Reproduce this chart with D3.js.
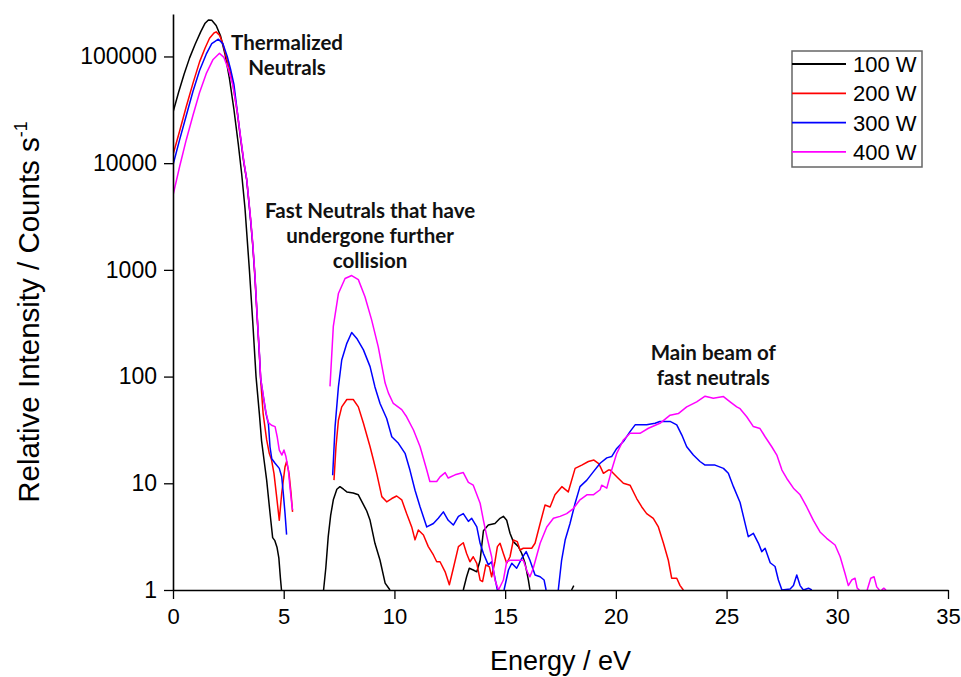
<!DOCTYPE html>
<html>
<head>
<meta charset="utf-8">
<script src="https://cdn.jsdelivr.net/npm/d3@7"></script>
<style>
  body { margin: 0; background: #fff; }
  svg text { font-family: "Liberation Sans", Arial, sans-serif; }
</style>
</head>
<body>
<div id="canvas"></div>
<script>
"use strict";

let svgWidth = 961;
let svgHeight = 677;

// plot box
let plotLeft = 173, plotRight = 948, plotTop = 14, plotBottom = 590;

// ---- data: [energy eV, counts/s], null = gap in the trace ----
let seriesNames = ["100 W", "200 W", "300 W", "400 W"];
let seriesColors = ["#000000", "#ff0000", "#0000ff", "#ff00ff"];

let w100 = [
  [0,30000],[0.25,46000],[0.5,68000],[0.75,97000],[1.0,130000],[1.25,170000],[1.45,205000],[1.6,220000],
  [1.75,218000],[1.95,195000],[2.15,155000],[2.35,105000],[2.55,62000],[2.75,32000],[2.95,15000],[3.1,8000],
  [3.25,3800],[3.45,1000],[3.6,330],[3.75,100],[3.9,45],[4.0,25],[4.12,16],[4.23,10.7],[4.38,5.3],[4.5,3.1],
  [4.6,2.9],[4.7,2.5],[4.78,2.0],[4.85,1.3],[4.9,1],
  null,
  [6.8,1],[6.9,1.6],[7.01,3.16],[7.12,5],[7.24,7.0],[7.4,8.8],[7.54,9.3],[7.7,8.8],[7.85,8.3],[8.14,8.1],
  [8.37,7.8],[8.6,6.3],[8.75,5.5],[8.9,4.5],[9.12,2.74],[9.35,1.9],[9.58,1.16],[9.8,1],
  null,
  [13.11,1],[13.26,1.33],[13.38,1.6],[13.56,1.54],[13.72,1.48],[13.87,1.9],[14.02,3.6],[14.24,4.06],[14.54,4.2],
  [14.77,4.7],[14.92,4.9],[15.07,4.5],[15.22,3.4],[15.37,2.84],[15.6,2.55],[15.75,2.2],[15.9,1.78],[16.05,1.24],[16.12,1],
  null,
  [18.0,1],[18.1,1.1]
];

let w200 = [
  [0,12000],[0.3,20000],[0.6,34000],[0.9,56000],[1.2,89000],[1.45,120000],[1.65,148000],[1.85,166000],[1.95,170000],
  [2.1,158000],[2.25,132000],[2.4,100000],[2.55,76000],[2.7,56000],[2.9,30000],[3.05,17000],[3.2,10000],[3.33,6900],
  [3.5,3000],[3.6,1700],[3.7,850],[3.8,360],[3.9,160],[3.96,93],[4.07,45],[4.23,25.5],[4.35,19],[4.45,16.6],
  [4.56,12.4],[4.68,7.5],[4.8,4.5],[4.91,8.1],[5.06,14.3],[5.13,16],[5.24,12.4],[5.33,8.1],[5.4,5.4],
  null,
  [7.27,10.7],[7.36,22],[7.47,39],[7.62,52],[7.85,61],[8.14,61],[8.37,52],[8.6,36.5],[8.9,22],[9.05,16.6],[9.2,12.4],
  [9.43,7.5],[9.65,6.7],[9.88,7.2],[10.1,7.6],[10.33,7.0],[10.55,5.2],[10.78,3.9],[10.93,2.95],[11.08,3.65],[11.31,3.28],
  [11.53,2.55],[11.76,2.13],[11.91,1.84],[12.06,1.84],[12.29,1.48],[12.48,1.12],[12.66,1.6],[12.89,2.55],[13.11,2.77],
  [13.26,2.2],[13.41,1.84],[13.56,2.05],[13.72,1.78],[13.87,1.24],[13.98,1.2],[14.13,1.72],[14.29,1.65],[14.39,1.33],
  [14.54,1.84],[14.65,2.55],[14.77,2.74],[14.92,2.2],[15.07,1.78],[15.22,2.05],[15.37,2.94],[15.55,2.84],[15.67,2.37],
  [15.82,2.46],[16.0,2.46],[16.2,2.46],[16.35,2.74],[16.58,4.2],[16.8,6.25],[17.03,6.0],[17.25,7.8],[17.56,9.3],
  [17.85,8.3],[18.16,13.8],[18.46,14.8],[18.76,16],[19.01,16.5],[19.21,15.4],[19.29,14.4],[19.44,12.4],[19.66,13.3],
  [19.74,13.3],[20.04,11.5],[20.34,10],[20.64,9.6],[20.94,7.2],[21.17,6.0],[21.39,5.2],[21.69,4.7],[21.92,3.9],
  [22.15,2.74],[22.37,1.9],[22.52,1.29],[22.75,1.29],[22.9,1.1],[23.05,1]
];

let w300 = [
  [0,9600],[0.3,16600],[0.6,28000],[0.9,47000],[1.2,74000],[1.5,105000],[1.75,132000],[2.05,145000],[2.25,132000],
  [2.45,100000],[2.6,76000],[2.75,55000],[2.9,31000],[3.05,17500],[3.2,10200],[3.33,7000],[3.5,3000],[3.6,1750],
  [3.7,880],[3.8,370],[3.9,165],[3.96,95],[4.08,65],[4.2,45],[4.31,36],[4.38,22],[4.46,17],[4.61,15.4],[4.8,13.8],
  [4.91,11.5],[4.98,8.1],[5.06,5.2],[5.13,3.3],
  null,
  [7.21,11.9],[7.32,34],[7.47,80],[7.62,143],[7.85,205],[8.07,259],[8.3,228],[8.6,178],[8.9,124],[9.12,80],[9.35,56],
  [9.65,40.5],[9.88,27.3],[10.18,23.7],[10.48,19.1],[10.7,13.3],[10.93,8.6],[11.16,6.0],[11.46,3.9],[11.76,4.2],
  [11.98,4.7],[12.21,5.4],[12.43,4.5],[12.66,4.06],[12.89,4.9],[13.11,5.2],[13.34,4.4],[13.49,4.7],[13.72,3.9],
  [13.87,2.74],[14.02,2.2],[14.24,1.72],[14.39,1.84],[14.54,1.29],[14.65,1],
  null,
  [14.95,1],[15.15,1.54],[15.3,1.78],[15.52,1.6],[15.75,1.98],[15.95,2.29],[16.12,1.9],[16.35,1.38],[16.58,1.33],
  [16.76,1.24],[16.85,1],
  null,
  [17.4,1],[17.55,1.9],[17.71,2.94],[17.93,4.2],[18.16,6.5],[18.38,9.3],[18.69,10.7],[18.98,12.8],[19.29,15.4],
  [19.59,17.3],[19.81,17.8],[20.04,21.2],[20.34,24.6],[20.64,30.5],[20.87,35.3],[21.39,35.3],[21.77,36.5],[21.99,38],
  [22.45,38],[22.75,35.3],[22.98,28.3],[23.2,22],[23.5,18.4],[23.8,16],[24.03,14.8],[24.48,14.8],[24.86,13.8],
  [25.08,12.4],[25.31,9.3],[25.61,6.6],[25.76,4.9],[25.98,3.16],[26.21,3.4],[26.44,2.74],[26.59,2.29],[26.74,2.46],
  [26.97,1.8],[27.19,1.66],[27.34,1.24],[27.5,1.0],[27.87,1.02],[28.02,1.1],[28.17,1.38],[28.32,1.1],[28.47,1.0],
  [28.7,1.04],[28.85,1]
];

let w400 = [
  [0,5000],[0.3,9300],[0.6,16600],[0.9,28000],[1.2,46000],[1.5,69000],[1.8,93000],[2.1,107000],[2.3,98000],
  [2.5,76000],[2.7,54000],[2.9,30500],[3.05,17800],[3.2,10400],[3.33,7100],[3.5,3100],[3.6,1800],[3.7,900],
  [3.8,380],[3.9,170],[3.96,96],[4.08,66],[4.2,46],[4.31,37],[4.45,35],[4.61,34],[4.71,27],[4.8,20.5],[4.92,18.4],
  [5.01,20.5],[5.1,17.8],[5.21,13.3],[5.28,9.3],[5.36,6.5],[5.4,5.6],
  null,
  [7.09,81],[7.24,295],[7.47,600],[7.77,830],[8.07,885],[8.37,810],[8.67,560],[8.97,340],[9.27,190],[9.58,87],
  [9.73,70],[9.95,56],[10.33,49],[10.55,42],[10.86,31.6],[11.16,22],[11.46,13.3],[11.6,10.4],[11.91,10.4],
  [12.06,11.5],[12.29,12.6],[12.43,11.2],[12.74,12],[13.11,12.6],[13.34,10.2],[13.56,9.6],[13.87,6.5],[14.02,4.5],
  [14.17,3.2],[14.39,2.05],[14.54,1.24],[14.7,1.0],[14.92,1.24],[15.07,1.84],[15.22,1.9],[15.82,1.9],[16.0,1.48],
  [16.12,1.33],[16.27,1.6],[16.58,2.74],[16.88,3.9],[17.18,4.7],[17.48,4.9],[17.78,5.2],[18.08,5.8],[18.38,7.0],
  [18.69,7.8],[18.98,7.8],[19.29,8.7],[19.36,9.6],[19.59,9.0],[19.81,13.3],[20.04,19.1],[20.34,25.5],[20.64,29.4],
  [21.09,29.4],[21.47,32.8],[21.99,36.5],[22.45,43.5],[22.82,45],[23.2,52],[23.65,58],[24.03,65.5],[24.4,62.6],
  [24.86,65],[25.16,58],[25.46,52],[25.61,50],[25.91,42],[26.21,34],[26.51,32.6],[26.74,27.3],[27.04,22],
  [27.27,18.4],[27.5,13.3],[27.72,11.1],[28.02,9],[28.32,7.8],[28.62,6.0],[28.92,4.5],[29.22,3.5],[29.52,3.05],
  [29.9,2.64],[30.13,2.05],[30.35,1.43],[30.5,1.1],[30.65,1.24],[30.8,1.29],[30.9,1.04],[31.0,1],
  null,
  [31.35,1],[31.51,1.29],[31.66,1.33],[31.78,1.07],[31.9,1],
  null,
  [32.0,1],[32.1,1.04],[32.2,1]
];

let allSeries = [w100, w200, w300, w400];

let xMajor = [0, 5, 10, 15, 20, 25, 30, 35];
let yMajor = [1, 10, 100, 1000, 10000, 100000];

// annotation anchor = centre of first line, in data units
let annotations = [
  { lines: ["Thermalized", "Neutrals"], x: 5.15, y: 115000 },
  { lines: ["Fast Neutrals that have", "undergone further", "collision"], x: 8.9, y: 3080 },
  { lines: ["Main beam of", "fast neutrals"], x: 24.4, y: 143 }
];

// ---- svg ----
let svg = d3.select("#canvas")
  .append("svg")
  .attr("width", svgWidth)
  .attr("height", svgHeight);

let xScale = d3.scaleLinear().domain([0, 35]).range([plotLeft, plotRight]);
let yScale = d3.scaleLog().domain([1, 250000]).range([plotBottom, plotTop]);

// minor tick values
let xMinor = d3.range(0, 36, 1).filter(function(d){ return d % 5 !== 0; });
let yMinor = [];
for (let p = 0; p <= 5; p++) {
  for (let m = 2; m <= 9; m++) {
    let v = m * Math.pow(10, p);
    if (v <= 250000) yMinor.push(v);
  }
}

svg.append("clipPath").attr("id", "plotclip")
  .append("rect")
  .attr("x", plotLeft).attr("y", plotTop - 2)
  .attr("width", plotRight - plotLeft).attr("height", plotBottom - plotTop + 3);

// traces
let line = d3.line()
  .defined(function(d){ return d !== null; })
  .x(function(d){ return xScale(d[0]); })
  .y(function(d){ return yScale(d[1]); });

let traces = svg.append("g").attr("clip-path", "url(#plotclip)");
allSeries.forEach(function(s, i){
  traces.append("path")
    .datum(s)
    .attr("d", line)
    .attr("fill", "none")
    .attr("stroke", seriesColors[i])
    .attr("stroke-width", 1.5)
    .attr("stroke-linejoin", "round");
});

// x axis
let xAxisG = svg.append("g").attr("transform", "translate(0," + plotBottom + ")");
xAxisG.call(d3.axisBottom(xScale).tickValues(xMinor).tickSize(5).tickSizeOuter(0).tickFormat(""));
xAxisG.call(d3.axisBottom(xScale).tickValues(xMajor).tickSize(9).tickSizeOuter(0).tickFormat(d3.format("d")));

// y axis
let yAxisG = svg.append("g").attr("transform", "translate(" + plotLeft + ",0)");
yAxisG.call(d3.axisLeft(yScale).tickValues(yMinor).tickSize(4).tickSizeOuter(0).tickFormat(""));
yAxisG.call(d3.axisLeft(yScale).tickValues(yMajor).tickSize(9).tickSizeOuter(0).tickFormat(d3.format("d")));

svg.selectAll(".domain").attr("stroke", "#000").attr("stroke-width", 1.6);
svg.selectAll(".tick line").attr("stroke", "#000").attr("stroke-width", 1.3);
xAxisG.selectAll("text")
  .attr("font-size", "22px")
  .attr("font-family", "Liberation Sans, Arial, sans-serif")
  .attr("fill", "#000")
  .attr("dy", "1.15em")
  .attr("y", 9);
yAxisG.selectAll("text")
  .attr("font-size", "23px")
  .attr("font-family", "Liberation Sans, Arial, sans-serif")
  .attr("fill", "#000")
  .attr("x", -16);

// axis titles
svg.append("text")
  .attr("x", (plotLeft + plotRight) / 2)
  .attr("y", 670)
  .attr("text-anchor", "middle")
  .style("font-size", "27px")
  .text("Energy / eV");

let yTitle = svg.append("text")
  .attr("transform", "translate(39," + 312 + ") rotate(-90)")
  .attr("text-anchor", "middle")
  .style("font-size", "29.5px");
yTitle.append("tspan").text("Relative Intensity / Counts s");
yTitle.append("tspan").attr("dy", -12).style("font-size", "18px").text("-1");

// annotations
annotations.forEach(function(a){
  let t = svg.append("text")
    .attr("text-anchor", "middle")
    .style("font-family", "Lato, 'Open Sans', sans-serif")
    .style("font-weight", "bold")
    .style("font-size", "20.5px")
    .attr("fill", "#111");
  a.lines.forEach(function(l, k){
    t.append("tspan")
      .attr("x", xScale(a.x))
      .attr("y", yScale(a.y) + k * 25)
      .text(l);
  });
});

// legend
let lg = svg.append("g").attr("transform", "translate(792,51)");
lg.append("rect")
  .attr("width", 130).attr("height", 116)
  .attr("fill", "#fff")
  .attr("stroke", "#666").attr("stroke-width", 1.5);
seriesNames.forEach(function(n, i){
  let yy = 13 + i * 29.3;
  lg.append("line")
    .attr("x1", 0).attr("x2", 54)
    .attr("y1", yy).attr("y2", yy)
    .attr("stroke", seriesColors[i]).attr("stroke-width", 1.8);
  lg.append("text")
    .attr("x", 61).attr("y", yy + 8)
    .style("font-size", "22px")
    .text(n);
});
</script>
</body>
</html>
